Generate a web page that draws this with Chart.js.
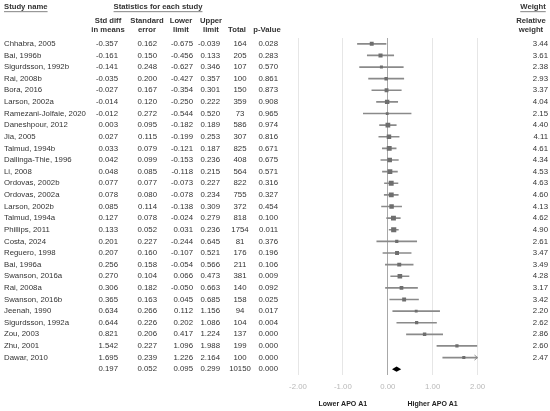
<!DOCTYPE html>
<html>
<head>
<meta charset="utf-8">
<script src="https://cdn.jsdelivr.net/npm/chart.js@4.4.1/dist/chart.umd.min.js"></script>
<style>
html,body{margin:0;padding:0;background:#fff;}
#c{display:block;}
</style>
</head>
<body>
<canvas id="c" width="550" height="411"></canvas>
<script>
const studies = ["Chhabra, 2005","Bai, 1996b","Sigurdsson, 1992b","Rai, 2008b","Bora, 2016","Larson, 2002a","Ramezani-Jolfaie, 2020","Daneshpour, 2012","Jia, 2005","Talmud, 1994b","Dallinga-Thie, 1996","Li, 2008","Ordovas, 2002b","Ordovas, 2002a","Larson, 2002b","Talmud, 1994a","Phillips, 2011","Costa, 2024","Reguero, 1998","Bai, 1996a","Swanson, 2016a","Rai, 2008a","Swanson, 2016b","Jeenah, 1990","Sigurdsson, 1992a","Zou, 2003","Zhu, 2001","Dawar, 2010"];
const stdDiff = [-0.357,-0.161,-0.141,-0.035,-0.027,-0.014,-0.012,0.003,0.027,0.033,0.042,0.048,0.077,0.078,0.085,0.127,0.133,0.201,0.207,0.256,0.270,0.306,0.365,0.634,0.644,0.821,1.542,1.695];
const stdErr = [0.162,0.150,0.248,0.200,0.167,0.120,0.272,0.095,0.115,0.079,0.099,0.085,0.077,0.080,0.114,0.078,0.052,0.227,0.160,0.158,0.104,0.182,0.163,0.266,0.226,0.206,0.227,0.239];
const lowerLimit = [-0.675,-0.456,-0.627,-0.427,-0.354,-0.250,-0.544,-0.182,-0.199,-0.121,-0.153,-0.118,-0.073,-0.078,-0.138,-0.024,0.031,-0.244,-0.107,-0.054,0.066,-0.050,0.045,0.112,0.202,0.417,1.096,1.226];
const upperLimit = [-0.039,0.133,0.346,0.357,0.301,0.222,0.520,0.189,0.253,0.187,0.236,0.215,0.227,0.234,0.309,0.279,0.236,0.645,0.521,0.566,0.473,0.663,0.685,1.156,1.086,1.224,1.988,2.164];
const totals = [164,205,107,100,150,359,73,586,307,825,408,564,822,755,372,818,1754,81,176,211,381,140,158,94,104,137,199,100];
const pValues = ["0.028","0.283","0.570","0.861","0.873","0.908","0.965","0.974","0.816","0.671","0.675","0.571","0.316","0.327","0.454","0.100","0.011","0.376","0.196","0.106","0.009","0.092","0.025","0.017","0.004","0.000","0.000","0.000"];
const weights = [3.44,3.61,2.38,2.93,3.37,4.04,2.15,4.40,4.11,4.61,4.34,4.53,4.63,4.60,4.13,4.62,4.90,2.61,3.47,3.49,4.28,3.17,3.42,2.20,2.62,2.86,2.60,2.47];
const summary = {stdDiff:0.197, stdErr:0.052, lower:0.095, upper:0.299, total:10150, p:"0.000"};
const xTicks = [-2,-1,0,1,2];

const rowLabels = studies.concat([""]);
const FONT = '"Liberation Sans", Arial, sans-serif';

const tablePlugin = {
  id: 'table',
  afterDraw(chart) {
    const ctx = chart.ctx;
    const y = chart.scales.y;
    const x = chart.scales.x;
    ctx.save();
    // headers
    ctx.fillStyle = '#333';
    ctx.font = 'bold 7.7px ' + FONT;
    ctx.textBaseline = 'middle';
    const ul = (txt, px, py, align) => {
      ctx.textAlign = align;
      ctx.fillText(txt, px, py);
      const w = ctx.measureText(txt).width;
      const x0 = align === 'left' ? px : (align === 'center' ? px - w/2 : px - w);
      ctx.fillRect(x0, py + 4.5, w, 0.6);
    };
    ul('Study name', 4, 7, 'left');
    ul('Statistics for each study', 158, 7, 'center');
    ul('Weight', 533, 7, 'center');
    ctx.textAlign = 'center';
    const hdr = [[108,'Std diff','in means'],[147,'Standard','error'],[181,'Lower','limit'],[211,'Upper','limit']];
    hdr.forEach(h => { ctx.fillText(h[1], h[0], 21); ctx.fillText(h[2], h[0], 30); });
    ctx.fillText('Total', 237, 30);
    ctx.fillText('p-Value', 267, 30);
    ctx.fillText('Relative', 531, 21);
    ctx.fillText('weight', 531, 30);
    // rows
    ctx.font = '7.8px ' + FONT;
    ctx.fillStyle = '#333';
    const drawRow = (i, name, sd, se, lo, up, tot, p, w) => {
      const py = y.getPixelForValue(i);
      ctx.textAlign = 'left'; ctx.fillText(name, 4, py);
      ctx.textAlign = 'right';
      ctx.fillText(sd.toFixed(3), 118, py);
      ctx.fillText(se.toFixed(3), 157, py);
      ctx.fillText(lo.toFixed(3), 193, py);
      ctx.fillText(up.toFixed(3), 220, py);
      ctx.textAlign = 'center'; ctx.fillText(String(tot), 240, py);
      ctx.textAlign = 'right'; ctx.fillText(p, 278, py);
      if (w !== null) ctx.fillText(w.toFixed(2), 548, py);
    };
    studies.forEach((s, i) => drawRow(i, s, stdDiff[i], stdErr[i], lowerLimit[i], upperLimit[i], totals[i], pValues[i], weights[i]));
    drawRow(studies.length, '', summary.stdDiff, summary.stdErr, summary.lower, summary.upper, summary.total, summary.p, null);
    // axis captions
    ctx.font = 'bold 7px ' + FONT;
    ctx.fillStyle = '#222';
    ctx.textAlign = 'center';
    ctx.fillText('Lower APO A1', x.getPixelForValue(-1), 404);
    ctx.fillText('Higher APO A1', x.getPixelForValue(1), 404);
    ctx.restore();
  },
  afterDatasetsDraw(chart) {
    const ctx = chart.ctx;
    const y = chart.scales.y;
    const x = chart.scales.x;
    ctx.save();
    // arrows for CIs beyond axis
    ctx.strokeStyle = '#8a8a8a';
    ctx.lineWidth = 1;
    upperLimit.forEach((u, i) => {
      if (u > x.max) {
        const px = x.getPixelForValue(x.max), py = y.getPixelForValue(i);
        ctx.beginPath();
        ctx.moveTo(px - 3, py - 2.5); ctx.lineTo(px, py); ctx.lineTo(px - 3, py + 2.5);
        ctx.stroke();
      }
    });
    // summary diamond
    const py = y.getPixelForValue(studies.length);
    ctx.fillStyle = '#000';
    ctx.beginPath();
    ctx.moveTo(x.getPixelForValue(summary.lower), py);
    ctx.lineTo(x.getPixelForValue(summary.stdDiff), py - 2.6);
    ctx.lineTo(x.getPixelForValue(summary.upper), py);
    ctx.lineTo(x.getPixelForValue(summary.stdDiff), py + 2.6);
    ctx.closePath();
    ctx.fill();
    ctx.restore();
  }
};

new Chart(document.getElementById('c'), {
  type: 'bar',
  data: {
    labels: rowLabels,
    datasets: [
      {
        type: 'bar',
        indexAxis: 'y',
        data: lowerLimit.map((l, i) => [l, upperLimit[i]]).concat([null]),
        backgroundColor: '#8a8a8a',
        borderWidth: 0,
        barThickness: 1,
        order: 2
      },
      {
        type: 'line',
        indexAxis: 'y',
        data: stdDiff.concat([null]),
        showLine: false,
        pointStyle: 'rect',
        pointRadius: c => (c.dataIndex < weights.length ? 0.7 + 0.6 * weights[c.dataIndex] : 0),
        pointBackgroundColor: '#6e6e6e',
        pointBorderWidth: 0,
        pointBorderColor: '#6e6e6e',
        order: 1
      }
    ]
  },
  options: {
    indexAxis: 'y',
    responsive: false,
    animation: false,
    devicePixelRatio: 1,
    layout: { padding: { left: 298, right: 72.5, top: 38, bottom: 0 } },
    plugins: { legend: { display: false }, tooltip: { enabled: false } },
    scales: {
      x: {
        type: 'linear',
        min: -2, max: 2,
        afterBuildTicks: s => { s.ticks = xTicks.map(v => ({ value: v })); },
        afterFit: s => { s.height = 36; },
        ticks: {
          callback: v => v.toFixed(2),
          color: '#b8b8b8',
          font: { family: FONT, size: 7.8 },
          padding: 7
        },
        grid: {
          drawTicks: false,
          color: c => (c.tick && c.tick.value === 0 ? '#a8a8a8' : '#e6e6e6'),
          lineWidth: 1
        },
        border: { display: false }
      },
      y: {
        type: 'category',
        display: false,
        offset: true,
        grid: { display: false }
      }
    }
  },
  plugins: [tablePlugin]
});
</script>
</body>
</html>
